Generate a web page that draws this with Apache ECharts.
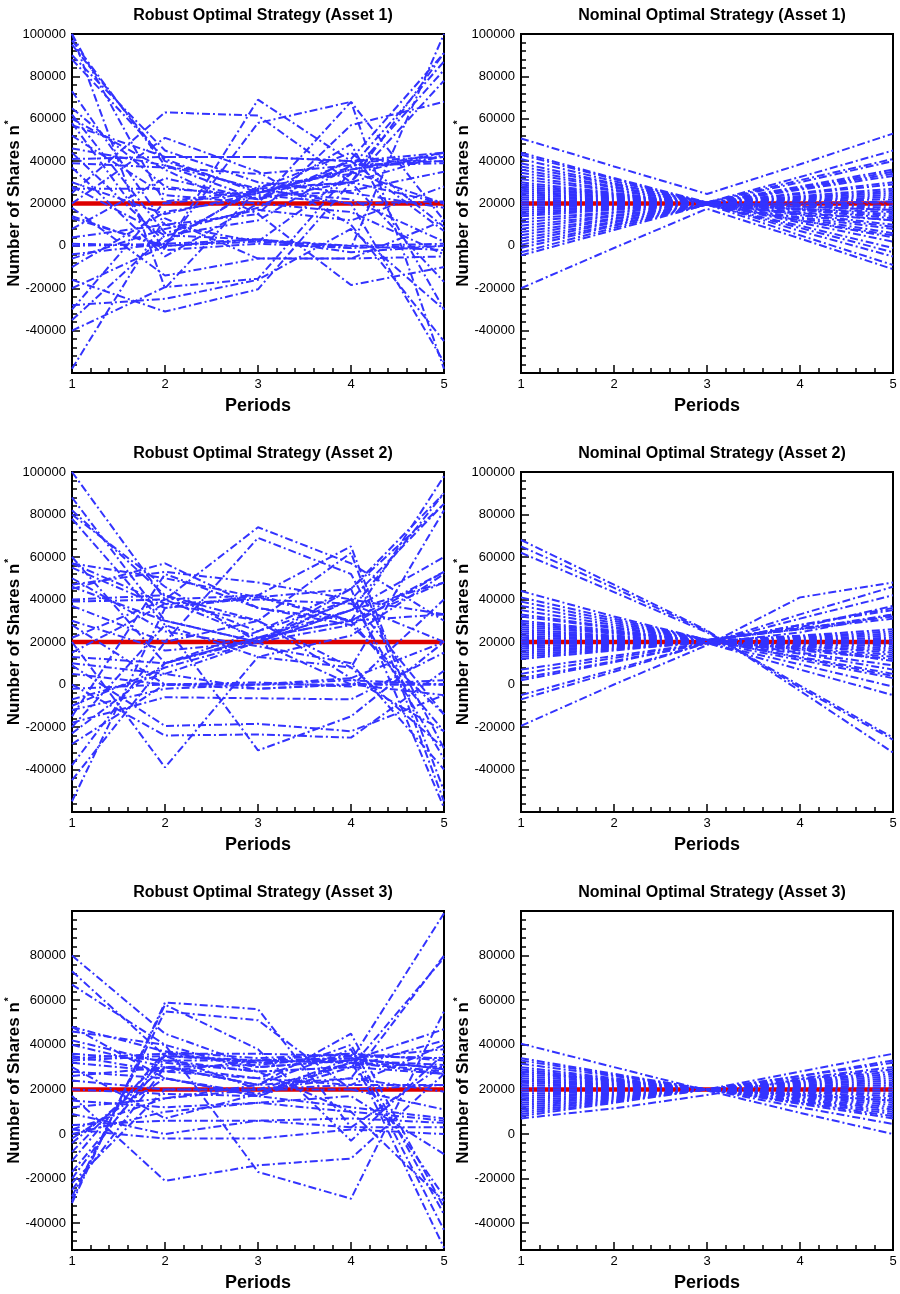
<!DOCTYPE html>
<html>
<head>
<meta charset="utf-8">
<script src="https://cdn.jsdelivr.net/npm/echarts@6/dist/echarts.min.js"></script>
<style>
html, body { margin: 0; padding: 0; background: #fff; }
#main { width: 900px; height: 1294px; }
</style>
</head>
<body>
<div id="main"></div>
<script>
// periods on the x axis
const periods = [1, 2, 3, 4, 5];
// the red reference strategy
const target = [20000, 20000, 20000, 20000, 20000];

// robust strategy paths, value at periods 1..5
const robust1 = [
  [100000, 20000, 25000, 36000, 44000],
  [97000, 38000, 22000, 30000, 91000],
  [88000, 41000, 25000, 37000, 87000],
  [73000, 10000, 2000, 34000, 83000],
  [58000, -2000, 1000, -1000, 100000],
  [57000, 42000, 42000, 40000, 40000],
  [52000, 24000, 20000, 16000, -4000],
  [46000, 38000, 27000, 30000, 78000],
  [41000, 42000, 42000, 40000, 42000],
  [39000, 37000, 34000, 38000, 39000],
  [37000, -5000, 20000, 68000, 12000],
  [27000, 27000, 24000, 20000, 21000],
  [25000, 63000, 61500, 30000, -17000],
  [20000, 51000, 35000, 10000, -45000],
  [14000, -1000, 69000, 40000, 7000],
  [13000, 0, 58000, 68000, -58000],
  [4000, 10000, 15000, 57000, 68000],
  [1000, 0, 2000, 0, 1000],
  [0, 1000, 3000, -1000, 0],
  [-6000, 8000, 17000, 12000, 28000],
  [-10000, 16000, 23000, 26000, 35000],
  [-16000, -31000, -20500, 30000, 43000],
  [-28000, -25000, -16000, 8000, -30000],
  [-40000, -19500, -15500, 35000, 20000],
  [-58000, 13000, -6000, -6000, -5000],
  [100000, -20000, 27000, 20000, -55000],
  [60000, 36000, 15000, -18500, -10000],
  [44000, 2000, 27000, 44000, 9000],
  [18000, -14000, -6000, -6000, 12000],
  [-30000, 21000, 26000, 22000, 2000],
  [8000, 32000, 22000, 48000, -30000],
  [28000, 5000, 3000, -3000, 0],
  [95000, 40000, 26000, 30000, 20000],
  [-4000, 1000, 28000, 34000, 44000],
  [62000, 6000, 18000, 41000, 91000],
  [90000, 45000, 30000, 25000, 18000],
  [-35000, 5000, 12000, 38000, 40000],
  [30000, 15000, 25000, 36000, 42000],
  [-20000, 0, 3000, 0, -2000],
  [65000, 28000, 22000, 40000, 44000]
];

const robust2 = [
  [100000, 40000, 22000, 30000, 98000],
  [88000, 30000, 20000, 35000, 90000],
  [82000, 42000, 25000, 45000, 85000],
  [78000, 28000, 13000, 8000, 82000],
  [57000, 50000, 41000, 30000, 53000],
  [55000, 36000, 42000, 65000, -50000],
  [47000, 53000, 48000, 40000, 33000],
  [45000, 57000, 36000, 28000, -14000],
  [39000, 40000, 74000, 57000, 30000],
  [37000, 20000, 69000, 52000, -30000],
  [28000, 0, -2000, 0, 0],
  [20000, -39000, 13000, 23000, 52000],
  [13000, 10000, 22000, 35000, 60000],
  [9000, -19500, -18500, -22000, -5000],
  [0, -24000, -23500, -25000, 6500],
  [-2000, 0, 1000, -1000, 40000],
  [-7000, 5000, 20000, 35000, 48000],
  [-18000, -6000, -6500, -7000, 15000],
  [-20000, 28000, -31000, -15000, 20000],
  [-23000, 10000, 25000, 40000, -35000],
  [-28000, 0, 0, 3000, -22000],
  [-38000, 20000, 30000, 62000, -55000],
  [-55000, 36000, 41000, 45000, -58000],
  [46000, 30000, 20000, 28000, 53000],
  [57000, 38000, 30000, 3000, 20000],
  [80000, 46000, 20000, 0, 0],
  [10000, 5000, -2000, 0, -5000],
  [22000, 40000, 42000, 30000, -22000],
  [-10000, 8000, 20000, 40000, 85000],
  [40000, 42000, 30000, 8000, -30000],
  [5000, 0, 0, 2000, 0],
  [-15000, 52000, 36000, 30000, 33000],
  [30000, 16000, 20000, 45000, 90000],
  [60000, 10000, 21000, 40000, -14000],
  [-45000, 10000, 22000, 30000, 48000],
  [50000, 25000, 18000, 10000, -40000],
  [15000, 38000, 40000, 38000, 20000],
  [-12000, -2000, 0, 0, 2000]
];

const robust3 = [
  [80000, 45000, 30000, 33000, 99000],
  [73000, 35000, 20000, 25000, 80000],
  [67000, 40000, 28000, 30000, 79000],
  [48000, 37000, 34000, 36000, -51000],
  [46000, 40000, -17000, -29000, 55000],
  [40000, 30000, 22000, 38000, -43000],
  [36000, 33000, 33000, 34000, 29000],
  [34000, 36000, 36000, 35000, 34000],
  [33000, 35000, 32000, 33000, 31000],
  [32000, 28000, 25000, 40000, -36000],
  [28000, 25000, 18000, 32000, -28000],
  [24000, 20000, 20000, 20000, 22000],
  [20000, 18000, 17000, 12000, 7000],
  [17000, -21000, -14000, -11000, 27000],
  [15000, 12000, 14000, 10000, 6000],
  [12000, 16000, 22000, 45000, -33000],
  [9000, 0, 6000, 7000, 5000],
  [4000, 6000, 6000, 3000, 3000],
  [2000, -2000, -2000, 2000, 0],
  [0, 10000, 14000, 17000, -9000],
  [-4000, 30000, 25000, 22000, 40000],
  [-12000, 37000, 30000, 33000, 47000],
  [-17000, 33000, 28000, 30000, 42000],
  [-20000, 36000, 32000, 34000, 38000],
  [-25000, 30000, 22000, 25000, 19000],
  [-28000, 55000, 51000, 20000, 11000],
  [-31000, 59000, 56000, 3000, 31000],
  [-30000, 58000, 38000, -3000, 36000],
  [30000, 7000, 18000, 34000, 29000],
  [48000, 25000, 17000, 32000, 27000],
  [2000, 16000, 20000, 22000, 22000],
  [35000, 28000, 33000, 36000, 33000],
  [-2000, 25000, 17000, 30000, 27000],
  [-22000, 20000, 20000, 32000, 30000],
  [42000, 32000, 28000, 10000, -30000],
  [-8000, 35000, 33000, 32000, 28000],
  [26000, 30000, 31000, 35000, 34000]
];

// nominal strategy paths
const nominal1 = [
  [50700, 37500, 24500, 38500, 53000],
  [44000, 32000, 20500, 32500, 45000],
  [43000, 31500, 20000, 7000, -5000],
  [41000, 30500, 20500, 31000, 41000],
  [39000, 29500, 20000, 12000, 4000],
  [37500, 29000, 20500, 30000, 40000],
  [36000, 28000, 20000, 14500, 9000],
  [34500, 27500, 20500, 28000, 36000],
  [33000, 26500, 20000, 27500, 35000],
  [31500, 26000, 20500, 17000, 13000],
  [30000, 25000, 20000, 27000, 34000],
  [29000, 24500, 20000, 11000, 2000],
  [28000, 24000, 20000, 26500, 33000],
  [27000, 23500, 20000, 18500, 17000],
  [26000, 23000, 20000, 25000, 30000],
  [25000, 22500, 20000, 15000, 10000],
  [24000, 22000, 20000, 24500, 29000],
  [23000, 21500, 20000, 16000, 12000],
  [22000, 21000, 20000, 23500, 27000],
  [21000, 20500, 20000, 19500, 19000],
  [20000, 20000, 20000, 23000, 26000],
  [19000, 19500, 20000, 17500, 15000],
  [18000, 19000, 20000, 22500, 25000],
  [17000, 18500, 20000, 17000, 14000],
  [16000, 18000, 20000, 22000, 24000],
  [15000, 17500, 20000, 19000, 18000],
  [14000, 17000, 20000, 21500, 23000],
  [12500, 16000, 20000, 13000, 6000],
  [11000, 15500, 20000, 21000, 22000],
  [9500, 14500, 19500, 13500, 8000],
  [8000, 14000, 19500, 20000, 20500],
  [6500, 13000, 19500, 12000, 5000],
  [5000, 12500, 19500, 17500, 16000],
  [3500, 11500, 19500, 9500, -1000],
  [2000, 11000, 19500, 20000, 21000],
  [500, 10000, 19500, 15500, 12000],
  [-1000, 9500, 19500, 8500, -3000],
  [-3000, 8500, 19500, 5000, -9000],
  [-4500, 7500, 19500, 18500, 17000],
  [-20000, -1000, 17500, 3500, -11000]
];

const nominal2 = [
  [68000, 47000, 25500, -3000, -32000],
  [65000, 45500, 25000, -1500, -26000],
  [62000, 43500, 24500, -500, -25000],
  [44000, 32000, 21000, 27000, 37000],
  [41000, 31000, 21000, 15000, 9000],
  [39000, 30000, 21000, 26000, 33000],
  [37000, 29000, 21000, 12500, 4000],
  [35000, 28000, 21000, 26500, 32000],
  [33000, 27000, 21000, 16500, 13000],
  [32000, 26500, 21000, 26000, 31000],
  [30000, 25500, 20500, 18000, 15000],
  [29000, 25000, 20500, 23000, 26000],
  [28000, 24500, 20500, 13000, 5000],
  [27000, 24000, 20500, 22500, 25000],
  [26000, 23000, 20500, 18500, 17000],
  [25000, 22500, 20500, 22000, 24000],
  [24000, 22000, 20000, 16000, 12000],
  [23000, 21500, 20000, 21500, 23000],
  [22000, 21000, 20000, 19000, 18000],
  [21000, 20500, 20000, 21000, 22000],
  [20000, 20000, 20000, 14500, 7000],
  [19000, 19500, 20000, 20500, 21000],
  [18000, 19000, 20000, 17000, 14000],
  [17000, 18500, 20000, 20000, 20000],
  [16000, 18000, 20000, 19500, 19000],
  [15000, 17500, 20000, 18000, 16000],
  [14000, 17000, 20000, 11500, 3000],
  [13000, 16500, 20000, 28000, 36000],
  [12000, 16000, 20000, 28000, 35000],
  [7000, 13500, 19500, 17500, 11000],
  [5000, 12500, 19500, 9500, -1000],
  [3000, 11000, 19500, 7000, -5000],
  [2000, 10500, 19500, 24500, 33000],
  [-5000, 7000, 19500, 31000, 42000],
  [-7000, 6000, 19500, 33000, 46000],
  [-19500, 0, 18500, 41000, 48000]
];

const nominal3 = [
  [40500, 30000, 19500, 9500, 0],
  [34000, 27000, 20000, 28000, 36000],
  [33000, 26500, 20000, 12000, 4500],
  [31500, 26000, 20000, 26000, 33000],
  [30000, 25000, 20000, 26000, 32000],
  [29000, 24500, 20000, 13500, 7000],
  [28000, 24000, 20000, 25000, 30000],
  [27000, 23500, 20000, 24000, 28000],
  [26000, 23000, 20000, 15000, 10000],
  [25000, 22500, 20000, 23500, 27000],
  [24000, 22000, 20000, 16500, 13000],
  [23000, 21500, 20000, 23000, 26000],
  [22000, 21000, 20000, 22500, 25000],
  [21000, 20500, 20000, 18000, 16000],
  [20000, 20000, 20000, 22000, 24000],
  [19000, 19500, 20000, 21500, 23000],
  [18000, 19000, 20000, 17000, 14000],
  [17000, 18500, 20000, 21000, 22000],
  [16000, 18000, 20000, 20500, 21000],
  [15000, 17500, 20000, 14500, 9000],
  [14000, 17000, 20000, 19500, 19000],
  [13000, 16500, 20000, 19000, 18000],
  [12000, 16000, 20000, 16000, 12000],
  [11000, 15500, 20000, 18500, 17000],
  [10000, 15000, 20000, 15500, 11000],
  [9000, 14500, 20000, 17500, 15000],
  [8000, 14000, 20000, 14000, 8000],
  [7000, 11500, 17500, 24500, 29000],
  [28000, 24000, 20000, 20000, 20000],
  [24000, 22000, 20000, 17500, 15000]
];

// y tick labels
const yLabelsTop = [-40000, -20000, 0, 20000, 40000, 60000, 80000, 100000];
const yLabelsBottom = [-40000, -20000, 0, 20000, 40000, 60000, 80000];

const titles = [
  'Robust Optimal Strategy (Asset 1)', 'Nominal Optimal Strategy (Asset 1)',
  'Robust Optimal Strategy (Asset 2)', 'Nominal Optimal Strategy (Asset 2)',
  'Robust Optimal Strategy (Asset 3)', 'Nominal Optimal Strategy (Asset 3)'
];
const panelData = [robust1, nominal1, robust2, nominal2, robust3, nominal3];

const FONT = '"Liberation Sans", Arial, Helvetica, sans-serif';
const COL_LEFT = [72, 521];
const PLOT_W = 372;
const ROW_TOP = [34, 472, 911];
const ROW_H = [339, 340, 339];
const Y_RANGE = [[-60000, 100000], [-60000, 100000], [-52000, 100000]];

var chart = echarts.init(document.getElementById('main'));

var grid = [], xAxis = [], yAxis = [], series = [], title = [];

for (let i = 0; i < 6; i++) {
  const row = Math.floor(i / 2), col = i % 2;
  const yMin = Y_RANGE[row][0], yMax = Y_RANGE[row][1];
  const labels = row === 2 ? yLabelsBottom : yLabelsTop;
  const minors = [];
  for (let v = yMin; v <= yMax; v += 4000) {
    if (v % 20000 !== 0) minors.push(v);
  }

  grid.push({
    left: COL_LEFT[col], top: ROW_TOP[row], width: PLOT_W, height: ROW_H[row],
    show: true, borderColor: '#000', borderWidth: 2, backgroundColor: '#fff',
    containLabel: false, outerBoundsMode: 'none'
  });

  title.push({
    text: titles[i],
    left: COL_LEFT[col] + PLOT_W / 2,
    top: ROW_TOP[row] - 31,
    textAlign: 'center',
    textStyle: { fontFamily: FONT, fontSize: 16, fontWeight: 'bold', color: '#000' }
  });

  xAxis.push({
    type: 'value', gridIndex: i, min: 1, max: 5, interval: 1,
    name: 'Periods', nameLocation: 'middle', nameGap: 24,
    nameTextStyle: { fontFamily: FONT, fontSize: 18, fontWeight: 'bold', color: '#000' },
    axisLine: { show: true, onZero: false, lineStyle: { color: '#000', width: 2 } },
    axisTick: { show: true, inside: true, length: 8, lineStyle: { color: '#000', width: 1.5 } },
    minorTick: { show: true, splitNumber: 5, length: 5, lineStyle: { color: '#000', width: 1.5 } },
    axisLabel: { fontFamily: FONT, fontSize: 13, color: '#000', margin: 5 },
    splitLine: { show: false }, minorSplitLine: { show: false }
  });

  yAxis.push({
    type: 'value', gridIndex: i, position: 'left', min: yMin, max: yMax,
    name: 'Number of Shares n{s|*}', nameLocation: 'middle', nameRotate: 90, nameGap: 48,
    nameMoveOverlap: false,
    nameTextStyle: {
      fontFamily: FONT, fontSize: 17, fontWeight: 'bold', color: '#000',
      rich: { s: { fontFamily: FONT, fontSize: 10, fontWeight: 'bold', color: '#000', verticalAlign: 'top', padding: [0, 0, 10, 1] } }
    },
    axisLine: { show: true, onZero: false, lineStyle: { color: '#000', width: 2 } },
    axisTick: { show: true, inside: true, length: 8, customValues: labels, lineStyle: { color: '#000', width: 1.5 } },
    axisLabel: {
      fontFamily: FONT, fontSize: 13, color: '#000', margin: 6, customValues: labels,
      formatter: function (v) { return String(v); }
    },
    splitLine: { show: false }
  });
  // minor ticks
  yAxis.push({
    type: 'value', gridIndex: i, position: 'left', min: yMin, max: yMax,
    axisLine: { show: false, onZero: false },
    axisTick: { show: true, inside: true, length: 5, customValues: minors, lineStyle: { color: '#000', width: 1.5 } },
    axisLabel: { show: false },
    splitLine: { show: false }
  });

  series.push({
    type: 'line', xAxisIndex: i, yAxisIndex: 2 * i,
    data: periods.map((p, k) => [p, target[k]]),
    symbol: 'none', silent: true, z: 2,
    lineStyle: { color: '#dd0000', width: 4.5 }
  });
  panelData[i].forEach(function (path) {
    series.push({
      type: 'line', xAxisIndex: i, yAxisIndex: 2 * i,
      data: periods.map((p, k) => [p, path[k]]),
      symbol: 'none', silent: true, z: 3,
      lineStyle: { color: '#3333ff', width: 2, type: [8, 3, 2, 3] }
    });
  });
}

var option = {
  backgroundColor: '#fff',
  animation: false,
  title: title,
  grid: grid,
  xAxis: xAxis,
  yAxis: yAxis,
  series: series
};
chart.setOption(option);
</script>
</body>
</html>
